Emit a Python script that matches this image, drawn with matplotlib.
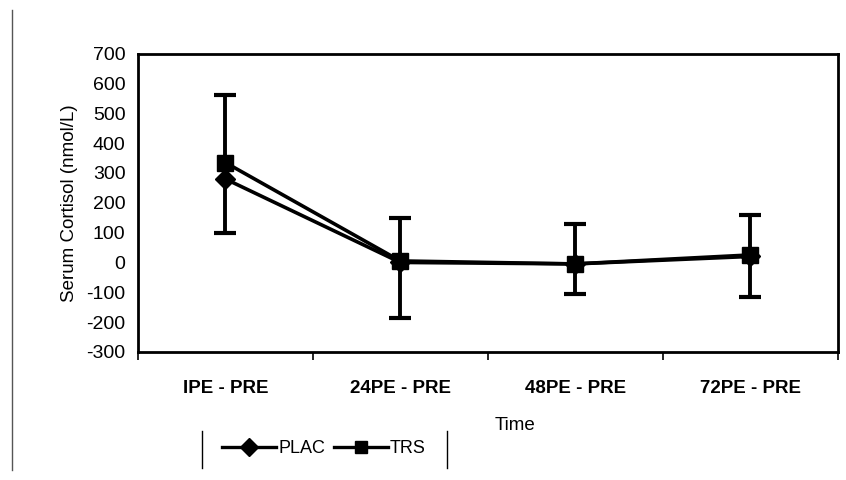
import matplotlib.pyplot as plt
import matplotlib.lines as mlines

plt.rcParams['font.family'] = ['Liberation Sans', 'DejaVu Sans']

# Change from pre-exercise, serum cortisol (nmol/L)
time_labels = ['IPE - PRE', '24PE - PRE', '48PE - PRE', '72PE - PRE']
plac_mean = [280, 0, -5, 20]
plac_err_down = [180, 185, 100, 135]
trs_mean = [335, 5, -5, 25]
trs_err_up = [225, 145, 135, 135]
y_ticks = list(range(-300, 701, 100))

fig = plt.figure(figsize=(8.46, 4.8), dpi=100)
ax = fig.add_axes([0.163, 0.267, 0.827, 0.621])

x = list(range(len(time_labels)))

# one-sided error bars: PLAC downwards, TRS upwards
plac_low = [m - e for m, e in zip(plac_mean, plac_err_down)]
trs_high = [m + e for m, e in zip(trs_mean, trs_err_up)]
ax.vlines(x, plac_low, plac_mean, color='black', linewidth=2.8, zorder=2)
ax.vlines(x, trs_mean, trs_high, color='black', linewidth=2.8, zorder=2)
ax.plot(x, plac_low, linestyle='none', marker='_', markersize=16,
        markeredgewidth=3, color='black', zorder=2)
ax.plot(x, trs_high, linestyle='none', marker='_', markersize=16,
        markeredgewidth=3, color='black', zorder=2)

ax.plot(x, plac_mean, color='black', linewidth=2.6, marker='D', markersize=10, zorder=3)
ax.plot(x, trs_mean, color='black', linewidth=2.6, marker='s', markersize=11.5, zorder=3)

ax.set_xlim(-0.5, len(x) - 0.5)
ax.set_ylim(-300, 700)
ax.set_yticks(y_ticks)
ax.set_yticklabels([str(v) for v in y_ticks], fontsize=14)
ax.tick_params(axis='y', length=0, pad=9)

ax.set_xticks(x)
ax.set_xticklabels(time_labels, fontsize=13.5, fontweight='bold')
ax.set_xticks([i - 0.5 for i in range(len(x) + 1)], minor=True)
ax.tick_params(axis='x', which='major', length=0, pad=20)
ax.tick_params(axis='x', which='minor', length=6, width=1.2, direction='out')

for s in ax.spines.values():
    s.set_linewidth(2)

ax.set_ylabel('Serum Cortisol (nmol/L)', fontsize=13.5, labelpad=6)
fig.text(0.609, 0.113, 'Time', fontsize=13.5, ha='center', va='center')

# legend with only the side rules of its frame
plac_h = mlines.Line2D([], [], color='black', linewidth=2.4, marker='D', markersize=9)
trs_h = mlines.Line2D([], [], color='black', linewidth=2.4, marker='s', markersize=9)
leg = fig.legend([plac_h, trs_h], ['PLAC', 'TRS'], loc='center',
                 bbox_to_anchor=(0.383, 0.065), ncol=2, frameon=False,
                 fontsize=13, handlelength=3.0, handletextpad=0.1,
                 columnspacing=0.5)
fig.add_artist(mlines.Line2D([0.239, 0.239], [0.025, 0.102], color='black', linewidth=1))
fig.add_artist(mlines.Line2D([0.528, 0.528], [0.025, 0.102], color='black', linewidth=1))

# page edge rule on the left
fig.add_artist(mlines.Line2D([0.014, 0.014], [0.02, 0.98], color='#555555', linewidth=1))

fig.savefig('out.png', dpi=100)
